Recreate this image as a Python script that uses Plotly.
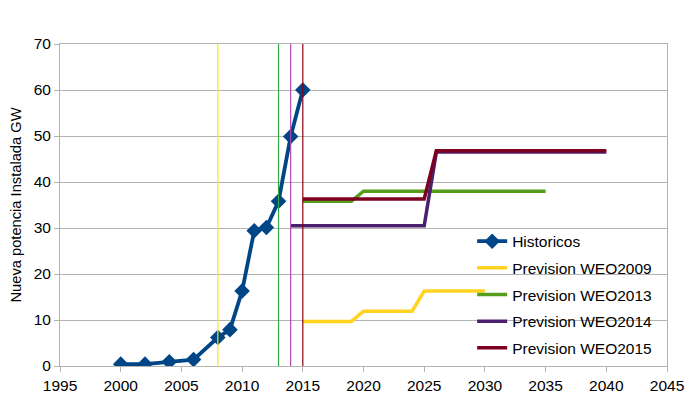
import plotly.graph_objects as go

# Historic data
hist_years = [2000, 2002, 2004, 2006, 2008, 2009, 2010, 2011, 2012, 2013, 2014, 2015]
hist_values = [0.4, 0.4, 0.9, 1.4, 6.2, 7.9, 16.3, 29.4, 30.1, 35.8, 49.9, 60.0]

# Forecasts
weo2009_years = [2015, 2019, 2020, 2024, 2025, 2030]
weo2009_values = [9.7, 9.7, 11.9, 11.9, 16.3, 16.3]
weo2013_years = [2015, 2019, 2020, 2035]
weo2013_values = [35.8, 35.8, 38.0, 38.0]
weo2014_years = [2014, 2025, 2026, 2040]
weo2014_values = [30.5, 30.5, 46.5, 46.5]
weo2015_years = [2015, 2025, 2026, 2040]
weo2015_values = [36.3, 36.3, 46.8, 46.8]

# Vertical marker lines (publication years)
vline_years = [2008, 2013, 2014, 2015]
vline_colors = ["#FFEA00", "#33A844", "#B446B4", "#8B0015"]

y_title = "Nueva potencia Instalada GW"

FONT = "Liberation Sans, Arial, sans-serif"

fig = go.Figure()

fig.add_trace(go.Scatter(
    x=hist_years, y=hist_values, mode="lines+markers", name="Historicos",
    line=dict(color="#004586", width=3.8),
    marker=dict(symbol="diamond", size=12, color="#004586"),
    legendgroup="a"))
fig.add_trace(go.Scatter(
    x=weo2009_years, y=weo2009_values, mode="lines", name="Prevision WEO2009",
    line=dict(color="#FFD320", width=3.5), legendgroup="b"))
fig.add_trace(go.Scatter(
    x=weo2013_years, y=weo2013_values, mode="lines", name="Prevision WEO2013",
    line=dict(color="#579D1C", width=3.5), legendgroup="c"))
fig.add_trace(go.Scatter(
    x=weo2014_years, y=weo2014_values, mode="lines", name="Prevision WEO2014",
    line=dict(color="#4B1F6F", width=3.5), legendgroup="d"))
fig.add_trace(go.Scatter(
    x=weo2015_years, y=weo2015_values, mode="lines", name="Prevision WEO2015",
    line=dict(color="#7E0021", width=3.5), legendgroup="e"))

for yr, col in zip(vline_years, vline_colors):
    fig.add_shape(type="line", xref="x", yref="paper", x0=yr, x1=yr, y0=0, y1=1,
                  line=dict(color=col, width=1.2), layer="above")

fig.update_layout(
    width=677, height=401,
    margin=dict(l=52, r=18, t=36, b=43, autoexpand=False),
    paper_bgcolor="white", plot_bgcolor="white",
    font=dict(family=FONT, size=15.5, color="#000000"),
    showlegend=True,
    legend=dict(
        x=0.679, y=0.439, xanchor="left", yanchor="top",
        bgcolor="rgba(0,0,0,0)", borderwidth=0,
        font=dict(family=FONT, size=15.5, color="#000000"),
        traceorder="grouped", tracegroupgap=3.5,
    ),
    xaxis=dict(
        range=[1995, 2045], dtick=5, tick0=1995,
        showgrid=False, zeroline=False, automargin=False,
        showline=True, linecolor="#B3B3B3", linewidth=1, mirror=True,
        ticks="outside", ticklen=5, tickcolor="#B3B3B3",
        tickfont=dict(family=FONT, size=15.5, color="#000000"),
    ),
    yaxis=dict(
        range=[0, 70], dtick=10, automargin=False,
        showgrid=True, gridcolor="#B3B3B3", gridwidth=1, zeroline=False,
        showline=True, linecolor="#B3B3B3", linewidth=1, mirror=True,
        ticks="outside", ticklen=5, tickcolor="#B3B3B3",
        tickfont=dict(family=FONT, size=15.5, color="#000000"),
        title=dict(text=y_title,
                   font=dict(family=FONT, size=14.7, color="#000000")),
    ),
)

fig.write_html("out.html")
